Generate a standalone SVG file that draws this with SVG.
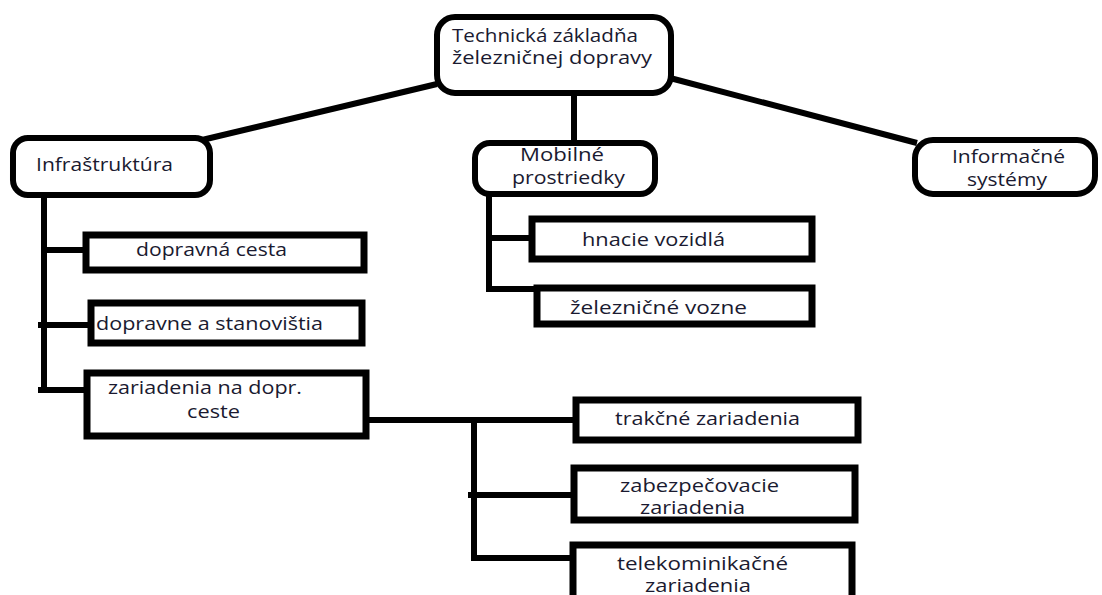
<svg xmlns="http://www.w3.org/2000/svg" width="1102" height="595" viewBox="0 0 1102 595">
  <style>
    .rnd { fill: #fff; stroke: #000; stroke-width: 6; }
    .box { fill: #fff; stroke: #000; stroke-width: 7; }
    .ln { fill: none; stroke: #000; stroke-width: 6; stroke-linecap: butt; stroke-linejoin: miter; }
    text { font-family: "Open Sans", "Liberation Sans", sans-serif; font-size: 18px; fill: #1a1a30; }
  </style>
  <rect width="1102" height="595" fill="#fff"/>
  <g id="connectors">
    <line class="ln" x1="437" y1="84" x2="202" y2="140"/>
    <line class="ln" x1="574" y1="92" x2="574" y2="145"/>
    <line class="ln" x1="670" y1="78" x2="917" y2="143"/>
    <polyline class="ln" points="44,192 44,393"/>
    <line class="ln" x1="44" y1="250" x2="88" y2="250"/>
    <line class="ln" x1="38" y1="325" x2="92" y2="325"/>
    <line class="ln" x1="38" y1="390" x2="88" y2="390"/>
    <polyline class="ln" points="489,194 489,289 538,289"/>
    <line class="ln" x1="489" y1="238" x2="533" y2="238"/>
    <line class="ln" x1="366" y1="420" x2="577" y2="420"/>
    <polyline class="ln" points="474,420 474,558 574,558"/>
    <line class="ln" x1="468" y1="495" x2="575" y2="495"/>
  </g>
  <g id="n-root">
    <rect class="rnd" x="437" y="17" width="234" height="76" rx="18"/>
    <text x="452" y="42" textLength="186" lengthAdjust="spacingAndGlyphs">Technická základňa</text>
    <text x="452" y="64" textLength="200" lengthAdjust="spacingAndGlyphs">železničnej dopravy</text>
  </g>
  <g id="n-infra">
    <rect class="rnd" x="13" y="138" width="197" height="57" rx="15"/>
    <text x="36" y="171" textLength="137" lengthAdjust="spacingAndGlyphs">Infraštruktúra</text>
  </g>
  <g id="n-mobil">
    <rect class="rnd" x="475" y="143" width="180" height="51" rx="15"/>
    <text x="520" y="161" textLength="84" lengthAdjust="spacingAndGlyphs">Mobilné</text>
    <text x="512" y="184" textLength="113" lengthAdjust="spacingAndGlyphs">prostriedky</text>
  </g>
  <g id="n-info">
    <rect class="rnd" x="915" y="140" width="180" height="54" rx="18"/>
    <text x="952" y="163" textLength="113" lengthAdjust="spacingAndGlyphs">Informačné</text>
    <text x="967" y="186" textLength="80" lengthAdjust="spacingAndGlyphs">systémy</text>
  </g>
  <g id="n-cesta">
    <rect class="box" x="86" y="235" width="278" height="35"/>
    <text x="136" y="256" textLength="151" lengthAdjust="spacingAndGlyphs">dopravná cesta</text>
  </g>
  <g id="n-stanov">
    <rect class="box" x="91" y="303" width="271" height="40"/>
    <text x="96" y="330" textLength="227" lengthAdjust="spacingAndGlyphs">dopravne a stanovištia</text>
  </g>
  <g id="n-zariad">
    <rect class="box" x="87" y="373" width="279" height="63"/>
    <text x="108" y="394" textLength="194" lengthAdjust="spacingAndGlyphs">zariadenia na dopr.</text>
    <text x="187" y="418" textLength="53" lengthAdjust="spacingAndGlyphs">ceste</text>
  </g>
  <g id="n-hnacie">
    <rect class="box" x="532" y="219" width="280" height="40"/>
    <text x="582" y="246" textLength="143" lengthAdjust="spacingAndGlyphs">hnacie vozidlá</text>
  </g>
  <g id="n-vozne">
    <rect class="box" x="537" y="288" width="275" height="36"/>
    <text x="570" y="314" textLength="177" lengthAdjust="spacingAndGlyphs">železničné vozne</text>
  </g>
  <g id="n-trakcne">
    <rect class="box" x="576" y="400" width="282" height="40"/>
    <text x="615" y="425" textLength="185" lengthAdjust="spacingAndGlyphs">trakčné zariadenia</text>
  </g>
  <g id="n-zabezp">
    <rect class="box" x="574" y="468" width="281" height="52"/>
    <text x="620" y="492" textLength="159" lengthAdjust="spacingAndGlyphs">zabezpečovacie</text>
    <text x="640" y="514" textLength="105" lengthAdjust="spacingAndGlyphs">zariadenia</text>
  </g>
  <g id="n-telekom">
    <rect class="box" x="573" y="545" width="279" height="60"/>
    <text x="617" y="570" textLength="171" lengthAdjust="spacingAndGlyphs">telekominikačné</text>
    <text x="645" y="592" textLength="106" lengthAdjust="spacingAndGlyphs">zariadenia</text>
  </g>
</svg>
